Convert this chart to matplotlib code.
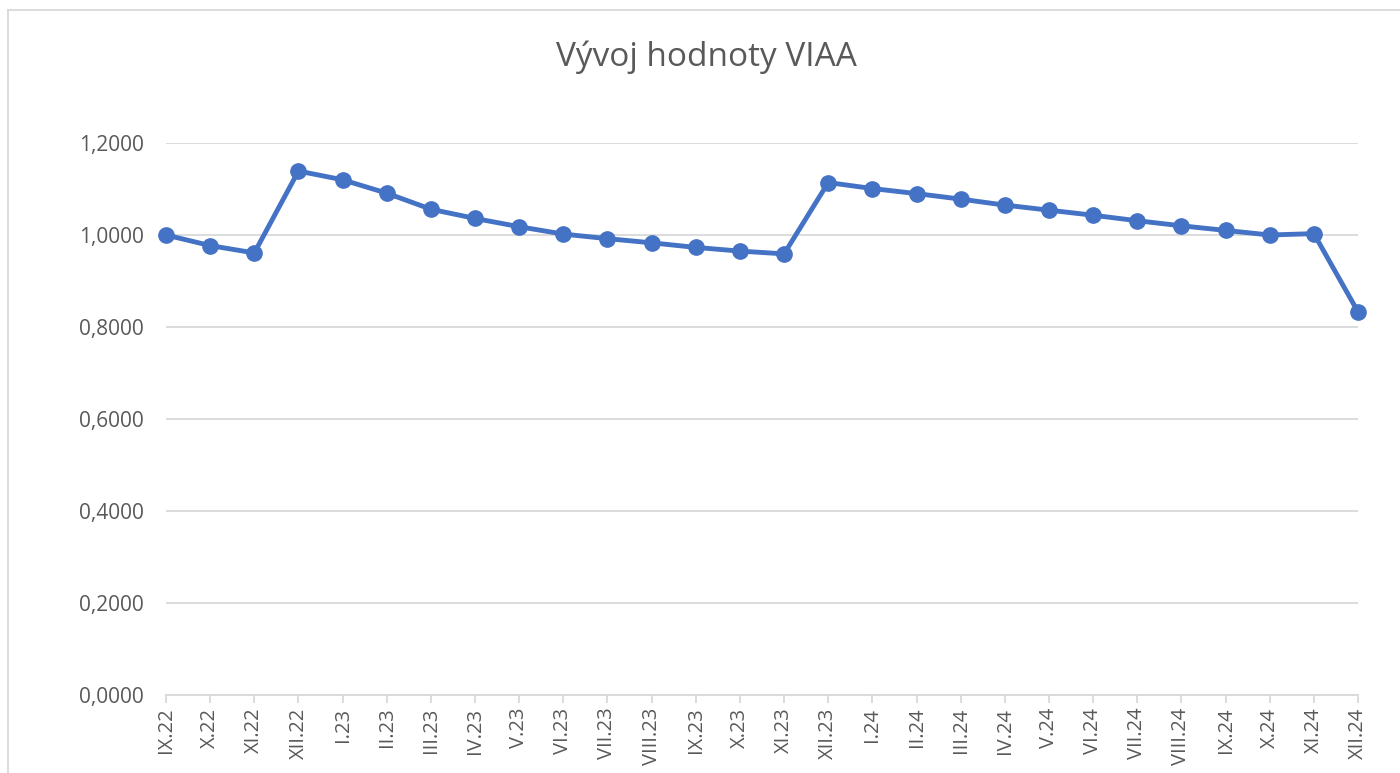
import matplotlib
matplotlib.use("Agg")
import matplotlib.pyplot as plt
from matplotlib.lines import Line2D
from matplotlib.ticker import FuncFormatter, MultipleLocator

plt.rcParams['font.family'] = ['Open Sans', 'DejaVu Sans']

months = ["IX.22", "X.22", "XI.22", "XII.22", "I.23", "II.23", "III.23", "IV.23",
          "V.23", "VI.23", "VII.23", "VIII.23", "IX.23", "X.23", "XI.23", "XII.23",
          "I.24", "II.24", "III.24", "IV.24", "V.24", "VI.24", "VII.24", "VIII.24",
          "IX.24", "X.24", "XI.24", "XII.24"]
values = [1.000, 0.977, 0.961, 1.139, 1.120, 1.091, 1.056, 1.036,
          1.018, 1.002, 0.992, 0.983, 0.973, 0.965, 0.959, 1.114,
          1.101, 1.090, 1.078, 1.065, 1.054, 1.043, 1.031, 1.020,
          1.010, 1.000, 1.003, 0.833]

TEXT = "#595959"
GRID = "#D9D9D9"
BLUE = "#4472C4"

fig = plt.figure(figsize=(14, 7.73), dpi=100)
ax = fig.add_axes([166 / 1400, 1 - 695 / 773, (1358 - 166) / 1400, (695 - 143) / 773])

x = list(range(len(months)))
ax.plot(x, values, color=BLUE, linewidth=3.5, marker="o", markersize=11,
        solid_capstyle="round", solid_joinstyle="round", clip_on=False, zorder=3)

ax.set_xlim(0, len(months) - 1)
ax.set_ylim(0, 1.2)
ax.yaxis.set_major_locator(MultipleLocator(0.2))
ax.yaxis.set_major_formatter(FuncFormatter(lambda v, p: f"{v:.4f}".replace(".", ",")))
ax.set_xticks(x)
ax.set_xticklabels(months, rotation=90)

ax.grid(axis="y", color=GRID, linewidth=1.3)
ax.set_axisbelow(True)
for s in ["top", "right", "left"]:
    ax.spines[s].set_visible(False)
ax.spines["bottom"].set_color(GRID)
ax.spines["bottom"].set_linewidth(1.3)
ax.tick_params(axis="y", length=0, pad=16, labelsize=15, labelcolor=TEXT)
ax.tick_params(axis="x", length=6, width=1.3, color=GRID, pad=3, labelsize=14.5, labelcolor=TEXT)

fig.text(706 / 1400, 1 - 57 / 773, "Vývoj hodnoty VIAA", ha="center", va="center",
         fontsize=24, color=TEXT)

# chart frame (top and left edges visible in the crop)
fig.add_artist(Line2D([8 / 1400, 8 / 1400], [0, 1 - 10 / 773], color=GRID, linewidth=1.3))
fig.add_artist(Line2D([8 / 1400, 1], [1 - 10 / 773, 1 - 10 / 773], color=GRID, linewidth=1.3))

fig.savefig("out.png", dpi=100, facecolor="white")
